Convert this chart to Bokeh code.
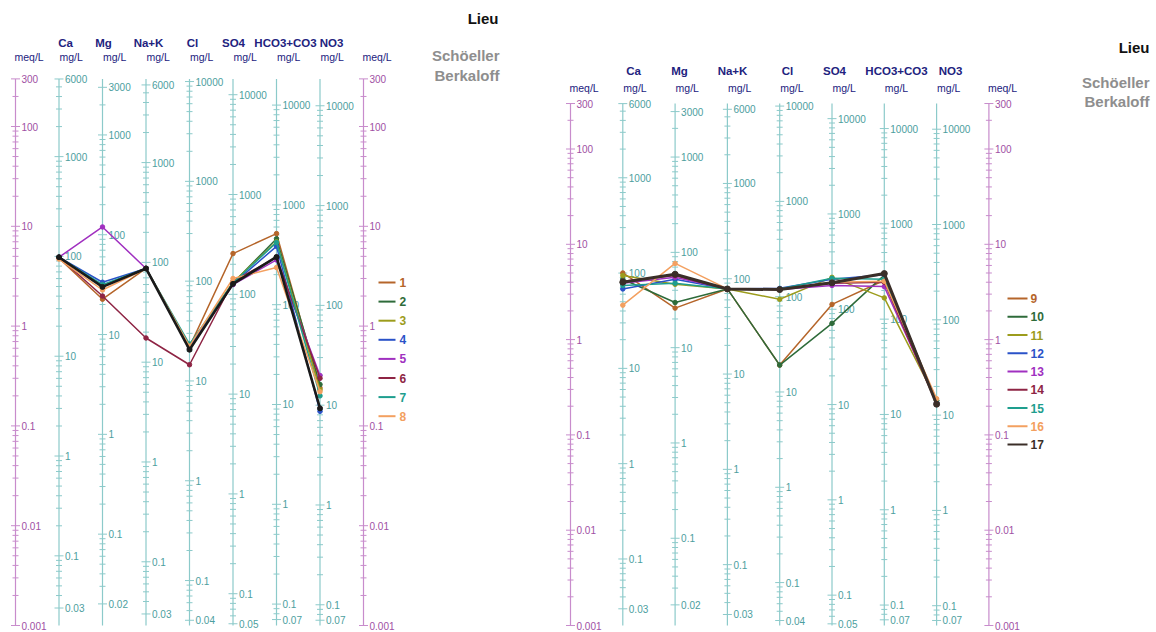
import math
from bokeh.plotting import figure
from bokeh.layouts import row
from bokeh.models import Range1d, ColumnDataSource
from bokeh.core.properties import value
from bokeh.embed import file_html
from bokeh.resources import INLINE

# ---------------- data ----------------
ions = ["Ca", "Mg", "Na+K", "Cl", "SO4", "HCO3+CO3", "NO3"]
eq_weights = [20.04, 12.15, 22.99, 35.45, 48.03, 61.02, 62.0]
top_labels = ["6000", "3000", "6000", "10000", "10000", "10000", "10000"]
bottom_labels = ["0.03", "0.02", "0.03", "0.04", "0.05", "0.07", "0.07"]
decade_labels = ["0.1", "1", "10", "100", "1000", "10000"]
meq_labels = ["300", "100", "10", "1", "0.1", "0.01", "0.001"]
meq_min, meq_max = 0.001, 300.0

# concentrations in meq/L, order: Ca, Mg, Na+K, Cl, SO4, HCO3+CO3, NO3
s1 = [4.8, 1.86, 3.78, 0.62, 5.33, 8.45, 0.24]
s2 = [4.9, 2.5, 3.78, 0.60, 2.7, 7.5, 0.26]
s3 = [4.9, 2.5, 3.78, 0.63, 2.75, 7.0, 0.23]
s4 = [4.9, 2.75, 3.78, 0.62, 2.65, 6.3, 0.14]
s5 = [4.9, 9.85, 3.78, 0.60, 2.6, 4.6, 0.32]
s6 = [4.9, 2.0, 0.76, 0.41, 2.8, 4.9, 0.30]
s7 = [4.9, 2.6, 3.78, 0.66, 2.7, 6.9, 0.20]
s8 = [4.7, 2.3, 3.78, 0.63, 3.0, 3.86, 0.22]
s_dark = [4.9, 2.47, 3.78, 0.58, 2.65, 4.93, 0.15]

s9 = [5.0, 2.14, 3.4, 0.54, 2.34, 4.2, 0.23]
s10 = [4.3, 2.45, 3.4, 0.54, 1.48, 4.75, 0.22]
s11 = [4.7, 3.8, 3.4, 2.65, 4.5, 2.74, 0.23]
s12 = [3.4, 4.3, 3.4, 3.45, 4.3, 4.8, 0.22]
s13 = [3.9, 4.5, 3.4, 3.35, 3.7, 3.6, 0.22]
s14 = [4.1, 4.7, 3.4, 3.35, 3.9, 4.0, 0.21]
s15 = [3.7, 3.9, 3.4, 3.4, 4.4, 4.3, 0.23]
s16 = [2.3, 6.3, 3.4, 3.35, 4.0, 4.1, 0.24]
s17 = [4.0, 4.85, 3.4, 3.35, 3.94, 4.93, 0.21]

left_names = ["1", "2", "3", "4", "5", "6", "7", "8"]
right_names = ["9", "10", "11", "12", "13", "14", "15", "16", "17"]
palette = ["#b5652a", "#2e6b3a", "#9c9c1c", "#2a52c8", "#a030c0",
           "#8e2444", "#1e9e8e", "#f3a060", "#3a2e28"]

left_series = [s1, s2, s3, s4, s5, s6, s7, s8]
right_series = [s9, s10, s11, s12, s13, s14, s15, s16, s17]

# ---------------- styles ----------------
FONT = value("Liberation Sans")
NAVY = "#22227e"
AXIS_TEAL = "#8ccaca"
LABEL_TEAL = "#4c9e9e"
AXIS_PURPLE = "#c88ccc"
LABEL_PURPLE = "#a050a4"
H = 632
PAGE_TOP = 0


def make_panel(fig_x, width, x0, dx, ybot, dec, series, names, colors,
               widths, header_x, header_y, unit_y, lieu_xy, sch_xy, berk_xy,
               leg, extra=None):
    X = lambda px: (px - x0) / dx
    Y = lambda py: 10 ** ((ybot - py) / dec - 3)
    p = figure(width=width, height=H,
               x_range=Range1d(X(fig_x), X(fig_x + width)),
               y_range=Range1d(Y(PAGE_TOP + H), Y(PAGE_TOP)),
               y_axis_type="log", x_axis_location=None, y_axis_location=None,
               output_backend="svg", toolbar_location=None, min_border=0,
               outline_line_color=None)
    p.grid.visible = False

    n = len(ions)
    meq_x = [0, n + 1]

    # ---- axis lines ----
    p.segment(x0=meq_x, x1=meq_x, y0=[meq_min] * 2, y1=[meq_max] * 2,
              line_color=AXIS_PURPLE, line_width=1.2)
    px_idx = list(range(1, n + 1))
    p.segment(x0=px_idx, x1=px_idx, y0=[meq_min] * n, y1=[meq_max] * n,
              line_color=AXIS_TEAL, line_width=1.2)

    # ---- meq ticks ----
    meq_major = [float(t) for t in meq_labels]
    meq_minor = []
    for k in range(-3, 3):
        for m in range(2, 10):
            v = m * 10 ** k
            if meq_min <= v <= meq_max * 1.0001 and all(abs(v - q) / q > 1e-6 for q in meq_major):
                meq_minor.append(v)
    for ax in meq_x:
        for vals, half in ((meq_major, 4.5), (meq_minor, 3.0)):
            p.segment(x0=[ax - half / dx] * len(vals), x1=[ax + half / dx] * len(vals),
                      y0=vals, y1=vals, line_color=AXIS_PURPLE, line_width=1)
        p.text(x=[ax + 6 / dx] * len(meq_major), y=meq_major, text=meq_labels,
               text_font=FONT, text_font_size="10px", text_color=LABEL_PURPLE,
               text_baseline="middle", text_align="left")

    # ---- mg/L ticks for each ion ----
    for i, w in enumerate(eq_weights):
        ax = i + 1
        lo, hi = meq_min * w, meq_max * w
        tv = float(top_labels[i])
        bv = float(bottom_labels[i])
        majors = [tv]
        labels = [top_labels[i]]
        for d in decade_labels:
            dv = float(d)
            if lo <= dv <= hi and abs(dv - tv) > 1e-9:
                majors.append(dv)
                labels.append(d)
        majors.append(bv)
        labels.append(bottom_labels[i])
        minors = []
        for k in range(-3, 5):
            for m in range(1, 10):
                v = m * 10 ** k
                if lo <= v <= hi and all(abs(v - q) / q > 1e-6 for q in majors):
                    minors.append(v)
        maj_meq = [v / w for v in majors]
        min_meq = [v / w for v in minors]
        p.segment(x0=[ax - 4.5 / dx] * len(maj_meq), x1=[ax + 4.5 / dx] * len(maj_meq),
                  y0=maj_meq, y1=maj_meq, line_color=AXIS_TEAL, line_width=1)
        p.segment(x0=[ax - 3 / dx] * len(min_meq), x1=[ax + 3 / dx] * len(min_meq),
                  y0=min_meq, y1=min_meq, line_color=AXIS_TEAL, line_width=1)
        p.text(x=[ax + 6 / dx] * len(maj_meq), y=maj_meq, text=labels,
               text_font=FONT, text_font_size="10px", text_color=LABEL_TEAL,
               text_baseline="middle", text_align="left")

    # ---- headers ----
    p.text(x=[X(h) for h in header_x], y=[Y(header_y)] * n, text=ions,
           text_font=FONT, text_font_size="11.5px", text_font_style="bold",
           text_color=NAVY, text_baseline="middle", text_align="center")
    p.text(x=[i + 1 + 0.5 / dx for i in range(n)], y=[Y(unit_y)] * n, text=["mg/L"] * n,
           text_font=FONT, text_font_size="10.5px", text_color=NAVY,
           text_baseline="middle", text_align="left")
    p.text(x=[m - 1 / dx for m in meq_x], y=[Y(unit_y)] * 2, text=["meq/L"] * 2,
           text_font=FONT, text_font_size="10.5px", text_color=NAVY,
           text_baseline="middle", text_align="left")
    p.text(x=[X(lieu_xy[0])], y=[Y(lieu_xy[1])], text=["Lieu"],
           text_font=FONT, text_font_size="15px", text_font_style="bold",
           text_color="#111111", text_baseline="middle", text_align="right")
    p.text(x=[X(sch_xy[0]), X(berk_xy[0])], y=[Y(sch_xy[1]), Y(berk_xy[1])],
           text=["Schöeller", "Berkaloff"],
           text_font=FONT, text_font_size="15px", text_font_style="bold",
           text_color="#8e8e8e", text_baseline="middle", text_align="right")

    # ---- data lines ----
    xs = list(range(1, n + 1))
    for vals, col, lw in zip(series, colors, widths):
        p.line(x=xs, y=vals, line_color=col, line_width=lw)
        p.scatter(x=xs, y=vals, size=3 + lw, fill_color=col, line_color=col)
    if extra is not None:
        p.line(x=xs, y=extra, line_color="#1a1a1a", line_width=2.6)
        p.scatter(x=xs, y=extra, size=5, fill_color="#1a1a1a", line_color="#1a1a1a")

    # ---- legend ----
    lx0, lx1, ltx, ly0, ldy = leg
    ly = [Y(ly0 + k * ldy) for k in range(len(names))]
    p.segment(x0=[X(lx0)] * len(names), x1=[X(lx1)] * len(names), y0=ly, y1=ly,
              line_color=colors, line_width=2)
    p.text(x=[X(ltx)] * len(names), y=ly, text=names, text_font=FONT,
           text_font_size="12px", text_font_style="bold", text_color=colors,
           text_baseline="middle", text_align="left")
    return p


left = make_panel(
    fig_x=0, width=548, x0=15, dx=43.5, ybot=625, dec=99.8,
    series=left_series, names=left_names, colors=palette[:8],
    widths=[1.5] * 8,
    header_x=[65, 103, 148, 192, 233, 285, 331], header_y=42, unit_y=56,
    lieu_xy=(498, 18), sch_xy=(499, 55), berk_xy=(499, 75),
    leg=(378, 395, 399, 282, 19.1), extra=s_dark)

right = make_panel(
    fig_x=548, width=604, x0=570, dx=52.3, ybot=625, dec=95.3,
    series=right_series, names=right_names, colors=palette,
    widths=[1.5] * 8 + [3.0],
    header_x=[633, 679, 732, 787, 834, 896, 950], header_y=70, unit_y=87,
    lieu_xy=(1149, 47), sch_xy=(1149, 82), berk_xy=(1149, 101),
    leg=(1007, 1027, 1030, 298, 18.25))

layout = row(left, right)
open("out.html", "w").write(file_html(layout, INLINE))
